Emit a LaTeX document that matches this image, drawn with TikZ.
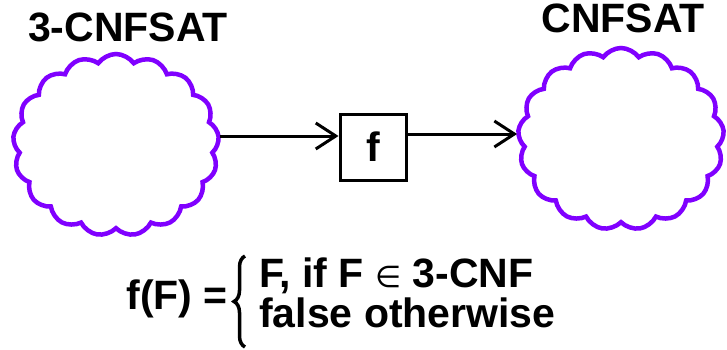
\documentclass[tikz,border=0pt]{standalone}
\usepackage{amsmath}
\usepackage{fontspec}
\setmainfont{Liberation Sans}
\newfontfamily\symfont{DejaVu Sans}
\usepackage{tikz}
\usepackage{xcolor}
\usetikzlibrary{shapes.symbols,arrows.meta,decorations.pathreplacing}
\definecolor{set-purple}{RGB}{128,0,255}
\tikzset{
    set-cloud/.style = {draw=set-purple, line width=4.5pt, cloud, cloud puffs=17, cloud puff arc=110, minimum width=206pt, minimum height=182pt, inner sep=0pt},
    set-title/.style = {font=\fontsize{41pt}{41pt}\selectfont\bfseries, anchor=base, inner sep=0pt},
    map-box/.style = {draw, line width=3pt, rectangle, minimum size=66pt, inner sep=0pt, font=\fontsize{41pt}{41pt}\selectfont\bfseries},
    map-arrow/.style = {line width=3pt, -{Straight Barb[length=20pt, width=26pt]}},
    rule-text/.style = {font=\fontsize{41pt}{40pt}\selectfont\bfseries, inner sep=0pt},
}

\begin{document}
\begin{tikzpicture}[x=1pt, y=-1pt]
\useasboundingbox (0,0) rectangle (727,350);
% the two sets and the map between them
\node[set-cloud] (set-a) at (116,145) {};
\node[set-cloud] (set-b) at (621,139) {};
\node[set-title] (title-a) at (128,42) {3-CNFSAT};
\node[set-title] (title-b) at (623,33) {CNFSAT};
\node[map-box] (f) at (373,147) {f};
\coordinate (f-in) at ([yshift=11pt]f.west);
\coordinate (f-out) at ([yshift=13pt]f.east);
\draw[map-arrow] (set-a.east |- f-in) -- (f-in);
\draw[map-arrow] (f-out) -- (set-b.west |- f-out);
% definition of f
\node[rule-text, anchor=base east] (rule-lhs) at (228,309) {f(F) =};
\node[rule-text, align=left, anchor=base west] (cases) at (259,327)
    {F, if F {\symfont\mdseries\fontsize{30pt}{30pt}\selectfont ∈} 3-CNF\\false otherwise};
\draw[line width=3.5pt, decorate, decoration={brace, amplitude=11pt}] (245,347) -- (245,256);
\end{tikzpicture}
\end{document}
